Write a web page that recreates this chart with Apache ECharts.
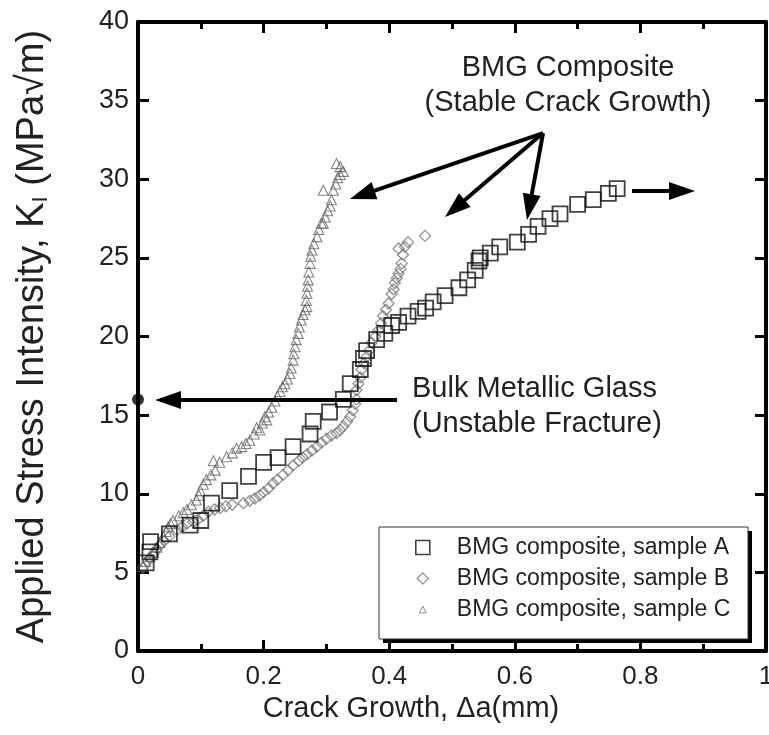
<!DOCTYPE html>
<html>
<head>
<meta charset="utf-8">
<script src="https://cdn.jsdelivr.net/npm/echarts@6/dist/echarts.min.js"></script>
<style>
html,body{margin:0;padding:0;background:#fff;}
#chart{width:769px;height:735px;}
</style>
</head>
<body>
<div id="chart"></div>
<script>
// ---- data ----
const xTicks = [0, 0.2, 0.4, 0.6, 0.8, 1];
const yTicks = [0, 5, 10, 15, 20, 25, 30, 35, 40];
const seriesNames = ['BMG composite, sample A', 'BMG composite, sample B', 'BMG composite, sample C'];

const sampleA = [
  [0.013,5.6],[0.019,6.3],[0.02,6.95],[0.05,7.45],[0.083,8.0],[0.1,8.3],[0.117,9.4],[0.146,10.2],
  [0.176,11.1],[0.2,12.0],[0.223,12.3],[0.247,13.0],[0.274,13.8],[0.279,14.6],[0.305,15.2],[0.327,16.0],
  [0.338,17.0],[0.354,17.9],[0.359,18.6],[0.364,19.1],[0.38,19.8],[0.393,20.2],[0.404,20.7],[0.415,20.9],
  [0.43,21.3],[0.446,21.6],[0.458,21.8],[0.47,22.2],[0.489,22.6],[0.511,23.1],[0.525,23.6],[0.537,24.2],
  [0.543,24.8],[0.545,25.0],[0.561,25.3],[0.576,25.7],[0.604,26.0],[0.622,26.5],[0.637,27.0],[0.656,27.5],
  [0.672,27.8],[0.7,28.4],[0.725,28.7],[0.749,29.1],[0.763,29.4]
];

const sampleB = [
  [0.008,5.3],[0.015,5.7],[0.019,5.9],[0.025,6.2],[0.03,6.5],[0.036,6.8],[0.042,7.0],[0.05,7.3],
  [0.062,7.7],[0.07,7.9],[0.078,8.1],[0.088,8.2],[0.095,8.35],[0.104,8.6],[0.112,8.85],[0.122,9.0],
  [0.131,9.1],[0.14,9.2],[0.15,9.3],[0.168,9.4],[0.178,9.55],[0.186,9.7],[0.194,9.9],[0.2,10.1],
  [0.208,10.35],[0.215,10.65],[0.222,10.9],[0.231,11.2],[0.239,11.5],[0.247,11.8],[0.256,12.1],[0.262,12.3],
  [0.269,12.5],[0.277,12.75],[0.285,13.0],[0.292,13.25],[0.3,13.5],[0.308,13.7],[0.316,13.85],[0.322,14.05],
  [0.327,14.3],[0.333,14.6],[0.338,14.9],[0.342,15.3],[0.346,15.7],[0.348,16.0],[0.348,16.6],[0.351,17.0],
  [0.354,17.4],[0.356,17.9],[0.36,18.3],[0.364,18.7],[0.368,19.1],[0.372,19.6],[0.378,20.0],[0.383,20.4],
  [0.387,20.85],[0.39,21.3],[0.395,21.7],[0.399,22.1],[0.404,22.7],[0.407,23.0],[0.409,23.4],[0.412,23.7],
  [0.415,24.0],[0.418,24.3],[0.42,24.65],[0.422,25.2],[0.415,25.6],[0.425,25.7],[0.43,26.0],[0.457,26.4]
];

const sampleC = [
  [0.008,5.4],[0.012,5.7],[0.019,6.0],[0.025,6.3],[0.03,6.6],[0.035,6.9],[0.04,7.3],[0.045,7.6],
  [0.048,7.9],[0.052,8.1],[0.056,8.3],[0.065,8.6],[0.072,8.8],[0.078,9.0],[0.085,9.3],[0.093,9.6],
  [0.097,9.9],[0.099,10.2],[0.104,10.6],[0.109,10.9],[0.116,11.2],[0.123,11.5],[0.12,12.1],[0.13,12.0],
  [0.141,12.35],[0.15,12.6],[0.157,12.9],[0.165,13.0],[0.172,13.2],[0.178,13.4],[0.185,13.8],[0.189,14.2],
  [0.194,14.05],[0.198,14.5],[0.202,14.9],[0.205,14.7],[0.208,15.2],[0.213,15.5],[0.218,15.9],[0.222,16.2],
  [0.226,16.5],[0.23,16.8],[0.234,17.0],[0.238,17.3],[0.242,17.65],[0.244,18.0],[0.247,18.5],[0.248,18.9],
  [0.25,19.35],[0.252,19.8],[0.255,20.2],[0.257,20.6],[0.26,21.05],[0.263,21.4],[0.266,21.7],[0.269,21.9],
  [0.268,22.3],[0.269,22.75],[0.27,23.2],[0.271,23.6],[0.272,24.1],[0.274,24.65],[0.275,25.1],[0.277,25.5],
  [0.28,25.9],[0.285,26.35],[0.288,26.8],[0.292,27.2],[0.295,27.2],[0.298,27.6],[0.302,28.0],[0.306,28.3],
  [0.308,28.7],[0.295,29.3],[0.311,29.3],[0.315,29.7],[0.318,30.1],[0.322,30.3],[0.327,30.5],[0.316,31.0],
  [0.322,30.8]
];

// Bulk metallic glass fracture toughness (single point on the axis)
const bulkGlass = [[0, 16.0]];

// ---- annotations (data coordinates) ----
const arrowOrigin = [0.645, 32.94];
const arrowTargets = [[0.357, 29.01], [0.5046, 28.14], [0.6232, 28.22]];
const rightArrow = [[0.7866, 29.25], [0.8662, 29.25]];
const bulkArrow = [[0.4124, 15.96], [0.0478, 15.96]];

const FONT = 'Liberation Sans, Arial, Helvetica, sans-serif';
const TXT = '#222';

const chart = echarts.init(document.getElementById('chart'), null, {renderer: 'canvas'});

const arrowHead = {symbol: 'triangle', symbolSize: [18, 26]};
const mlData = arrowTargets.map(t => [
  {coord: arrowOrigin, symbol: 'none'},
  Object.assign({coord: t}, arrowHead)
]);
mlData.push([{coord: rightArrow[0], symbol: 'none'}, Object.assign({coord: rightArrow[1]}, arrowHead)]);
mlData.push([{coord: bulkArrow[0], symbol: 'none'}, Object.assign({coord: bulkArrow[1]}, arrowHead)]);

const axisCommon = {
  axisLine: {show: true, onZero: false, lineStyle: {color: '#000', width: 4}},
  splitLine: {show: false}
};

const option = {
  backgroundColor: '#fff',
  animation: false,
  textStyle: {fontFamily: FONT},
  grid: {left: 138, right: 3, top: 22, bottom: 84, containLabel: false, outerBoundsMode: 'none'},
  xAxis: [
    Object.assign({
      type: 'value', min: 0, max: 1, interval: 0.2, position: 'bottom',
      name: 'Crack Growth, Δa(mm)', nameLocation: 'middle', nameGap: 43,
      nameTextStyle: {fontSize: 29, color: TXT, fontFamily: FONT, padding: [0, 82, 0, 0]},
      axisTick: {show: true, inside: true, length: 11, lineStyle: {color: '#000', width: 3}},
      minorTick: {show: true, splitNumber: 2, length: 7, lineStyle: {color: '#000', width: 3}},
      axisLabel: {show: true, fontSize: 26, color: TXT, margin: 13, fontFamily: FONT,
        formatter: v => (xTicks.indexOf(v) >= 0 ? String(v) : '')}
    }, axisCommon),
    Object.assign({
      type: 'value', min: 0, max: 1, interval: 0.2, position: 'top',
      axisTick: {show: true, inside: true, length: 11, lineStyle: {color: '#000', width: 3}},
      minorTick: {show: true, splitNumber: 2, length: 7, lineStyle: {color: '#000', width: 3}},
      axisLabel: {show: false}
    }, axisCommon)
  ],
  yAxis: [
    Object.assign({
      type: 'value', min: 0, max: 40, interval: 5, position: 'left',
      name: 'Applied Stress Intensity, K{s|I} (MPa√m)', nameLocation: 'middle', nameGap: 86, nameRotate: 90,
      nameTextStyle: {fontSize: 38, color: TXT, fontFamily: FONT,
        rich: {s: {fontSize: 22, color: TXT, fontFamily: FONT, padding: [16, 0, 0, 0]}}},
      axisTick: {show: true, inside: true, length: 11, lineStyle: {color: '#000', width: 3}},
      axisLabel: {show: true, fontSize: 27, color: TXT, margin: 9, fontFamily: FONT,
        formatter: v => (yTicks.indexOf(v) >= 0 ? String(v) : '')}
    }, axisCommon),
    Object.assign({
      type: 'value', min: 0, max: 40, interval: 5, position: 'right',
      axisTick: {show: true, inside: true, length: 11, lineStyle: {color: '#000', width: 3}},
      axisLabel: {show: false}
    }, axisCommon)
  ],
  legend: {
    orient: 'vertical', left: 379, top: 527, z: 10,
    padding: [9, 22, 20, 36], itemGap: 8, itemWidth: 14, itemHeight: 14,
    borderWidth: 0, backgroundColor: 'transparent',
    textStyle: {fontSize: 23, lineHeight: 22, color: TXT, fontFamily: FONT, padding: [0, 0, 0, 22]},
    data: [
      {name: seriesNames[0], icon: 'rect', itemStyle: {color: '#fff', borderColor: '#111', borderWidth: 1.6}},
      {name: seriesNames[1], icon: 'path://M0,0M20,20M10,2L18,10L10,18L2,10Z', itemStyle: {color: '#fff', borderColor: '#777', borderWidth: 1.3}},
      {name: seriesNames[2], icon: 'path://M0,0M20,20M10,5L15,15L5,15Z', itemStyle: {color: '#fff', borderColor: '#777', borderWidth: 1}}
    ]
  },
  series: [
    {
      name: seriesNames[1], type: 'scatter', data: sampleB, symbol: 'diamond', symbolSize: 11,
      itemStyle: {color: 'rgba(255,255,255,0)', borderColor: '#777', borderWidth: 1.3}, z: 3
    },
    {
      name: seriesNames[2], type: 'scatter', data: sampleC, symbol: 'triangle', symbolSize: 10,
      itemStyle: {color: 'rgba(255,255,255,0)', borderColor: '#666', borderWidth: 1.1}, z: 3
    },
    {
      name: seriesNames[0], type: 'scatter', data: sampleA, symbol: 'rect', symbolSize: 15,
      itemStyle: {color: 'rgba(255,255,255,0)', borderColor: '#111', borderWidth: 1.8}, z: 4
    },
    {
      name: 'Bulk Metallic Glass', type: 'scatter', data: bulkGlass, symbol: 'circle', symbolSize: 12,
      itemStyle: {color: '#000'}, clip: false, z: 6,
      markLine: {
        silent: true, animation: false,
        label: {show: false},
        lineStyle: {color: '#000', width: 4, type: 'solid'},
        emphasis: {disabled: true},
        data: mlData
      }
    }
  ],
  graphic: [
    {type: 'rect', z: 5, shape: {x: 383, y: 531, width: 369, height: 112}, style: {fill: '#000'}},
    {type: 'rect', z: 6, shape: {x: 379, y: 527, width: 369, height: 112}, style: {fill: '#fff', stroke: '#333', lineWidth: 1}},
    {type: 'text', z: 6, style: {text: 'BMG Composite', x: 568, y: 68, textAlign: 'center', textVerticalAlign: 'middle', font: '29px ' + FONT, fill: TXT}},
    {type: 'text', z: 6, style: {text: '(Stable Crack Growth)', x: 568, y: 103, textAlign: 'center', textVerticalAlign: 'middle', font: '29px ' + FONT, fill: TXT}},
    {type: 'text', z: 6, style: {text: 'Bulk Metallic Glass', x: 412, y: 389, textAlign: 'left', textVerticalAlign: 'middle', font: '29px ' + FONT, fill: TXT}},
    {type: 'text', z: 6, style: {text: '(Unstable Fracture)', x: 412, y: 424, textAlign: 'left', textVerticalAlign: 'middle', font: '29px ' + FONT, fill: TXT}}
  ]
};
chart.setOption(option);
</script>
</body>
</html>
